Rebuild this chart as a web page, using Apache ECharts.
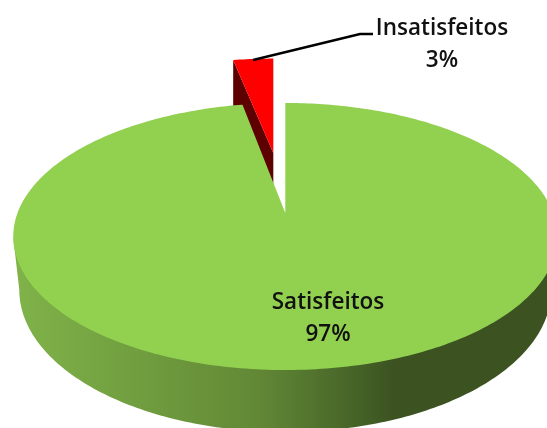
<!DOCTYPE html>
<html><head><meta charset="utf-8">
<style>html,body{margin:0;padding:0;background:#fff}#c{width:547px;height:428px}</style>
<script src="https://cdn.jsdelivr.net/npm/echarts@6/dist/echarts.min.js"></script>
</head><body><div id="c"></div>
<script>
var categories = ['Insatisfeitos', 'Satisfeitos'];
var values = [3, 97];

var chart = echarts.init(document.getElementById('c'), null, {renderer: 'canvas'});
var total = values.reduce(function (a, b) { return a + b; }, 0);
var KP = 0.176;
var LABEL_FONT = '600 22.5px "Open Sans"';

// perspective projection of a unit-circle point to the screen
function project(view, ang, r) {
  var u = Math.sin(ang) * r, v = Math.cos(ang) * r, w = 1 + KP * v;
  return [view.x + view.rx * u / w, view.y - view.ry * v / w];
}
function sectorPoints(view, a0, a1) {
  var pts = [[view.x, view.y]], n = Math.max(2, Math.ceil(Math.abs(a1 - a0) * 60));
  for (var i = 0; i <= n; i++) pts.push(project(view, a0 + (a1 - a0) * i / n, 1));
  return pts;
}
function renderItem(params, api) {
  var idx = params.dataIndex;
  var share = api.value(0) / total * Math.PI * 2;
  var children = [];
  if (categories[idx] === 'Insatisfeitos') {
    var viewR = {x: 273.3, y: 153, rx: 251, ry: 111};
    var pts = sectorPoints(viewR, -share, 0);
    var rimL = project(viewR, -share, 1);
    children.push({type: 'polygon', shape: {points: [rimL, [viewR.x, viewR.y], [viewR.x, viewR.y + 31], [rimL[0], rimL[1] + 62]]},
      style: {fill: '#5e0000'}});
    children.push({type: 'polygon', shape: {points: pts}, style: {fill: '#ff0000'}});
    children.push({type: 'polyline', shape: {points: [[253, 60], [360, 34], [373, 34]]},
      style: {stroke: '#000', lineWidth: 2.4, fill: null}});
    children.push({type: 'text', style: {x: 442, y: 45, text: categories[idx] + '\n' + api.value(0) + '%',
      fill: '#111', font: LABEL_FONT, lineHeight: 32, align: 'center', verticalAlign: 'middle'}});
  } else {
    var view = {x: 285.3, y: 213, rx: 267.8, ry: 129.4};
    var side = [[13.3, 238]];
    for (var i = 0; i <= 180; i++) {
      var t = Math.PI * i / 180;
      side.push([285.3 - 266 * Math.cos(t), 290 + 142 * Math.sin(t)]);
    }
    side.push([557.3, 238]);
    children.push({type: 'polygon', shape: {points: side}, style: {
      fill: new echarts.graphic.LinearGradient(13, 0, 557, 0, [
        {offset: 0, color: '#80b34a'}, {offset: 0.25, color: '#6f9c3e'},
        {offset: 0.45, color: '#628836'}, {offset: 0.6, color: '#4a6a2a'},
        {offset: 0.7, color: '#3c5321'}, {offset: 1, color: '#3c5321'}
      ], true)
    }});
    children.push({type: 'polygon', shape: {points: sectorPoints(view, 0, share)}, style: {fill: '#92d050'}});
    children.push({type: 'text', style: {x: 328, y: 319, text: categories[idx] + '\n' + api.value(0) + '%',
      fill: '#111', font: LABEL_FONT, lineHeight: 32, align: 'center', verticalAlign: 'middle'}});
  }
  return {type: 'group', children: children};
}
chart.setOption({
  backgroundColor: '#fff',
  animation: false,
  series: [{
    type: 'custom',
    coordinateSystem: 'none',
    renderItem: renderItem,
    data: values.map(function (v, i) { return {name: categories[i], value: [v]}; })
  }]
});
</script></body></html>
